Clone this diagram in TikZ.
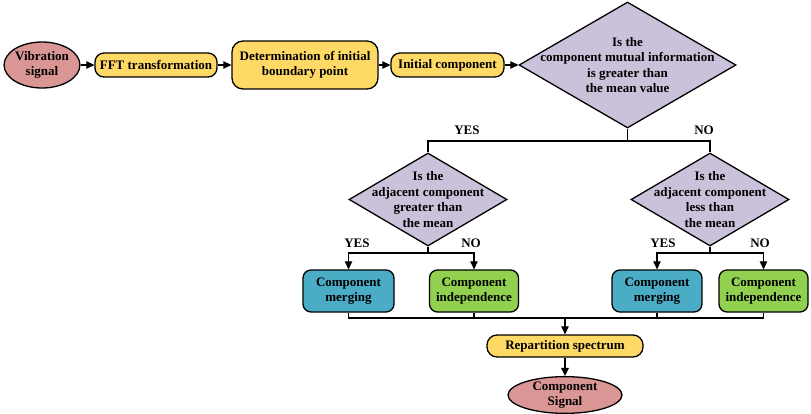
\documentclass[tikz,border=0pt]{standalone}
\usepackage{fontspec}
\setmainfont{Liberation Serif}
\usetikzlibrary{shapes.geometric,arrows.meta}
\definecolor{pinkc}{RGB}{217,150,148}
\definecolor{yelc}{RGB}{255,217,102}
\definecolor{lavc}{RGB}{204,193,218}
\definecolor{bluec}{RGB}{75,172,198}
\definecolor{grnc}{RGB}{146,208,80}
\begin{document}
\begin{tikzpicture}[x=1pt,y=-1pt,
  font=\bfseries\fontsize{13}{14.5}\selectfont,
  base/.style={draw=black, line width=1.3pt, align=center, inner sep=0pt},
  term/.style={base, ellipse, fill=pinkc},
  ybox/.style={base, rounded corners=9pt, fill=yelc, minimum height=24pt},
  dia/.style={base, diamond, fill=lavc},
  dtext/.style={align=center, inner sep=0pt, font=\bfseries\fontsize{13}{15.5}\selectfont},
  bbox/.style={base, rounded corners=8pt, fill=bluec, minimum height=42pt},
  gbox/.style={base, rounded corners=8pt, fill=grnc, minimum height=42pt},
  conn/.style={line width=1.2pt},
  arr/.style={conn, -{Triangle[length=8pt,width=7.5pt]}},
  lbl/.style={inner sep=0pt}]
\useasboundingbox (0,0) rectangle (811,414);

\node[term, minimum width=74pt, minimum height=46pt] (vib) at (42,65) {Vibration\\signal};
\node[ybox, minimum width=122pt] (fft) at (156,65) {FFT transformation};
\node[ybox, minimum width=146pt, minimum height=48pt, rounded corners=11pt] (det) at (305,65) {Determination of initial\\boundary point};
\node[ybox, minimum width=113pt] (init) at (447.5,65) {Initial component};
\node[dia, minimum width=217pt, minimum height=126pt] (d1) at (627.5,65) {};
\node[dtext] (d1t) at (627.5,65) {Is the\\component mutual information\\is greater than\\the mean value};

\node[dia, minimum width=158pt, minimum height=93pt] (d2) at (428,199.5) {};
\node[dtext] (d2t) at (428,199.5) {Is the\\adjacent component\\greater than\\the mean};
\node[dia, minimum width=158pt, minimum height=93pt] (d3) at (710,199.5) {};
\node[dtext] (d3t) at (710,199.5) {Is the\\adjacent component\\less than\\the mean};

\node[bbox, minimum width=91pt] (m1) at (348.5,291) {Component\\merging};
\node[gbox, minimum width=89pt] (i1) at (474,291) {Component\\independence};
\node[bbox, minimum width=90pt] (m2) at (657,291) {Component\\merging};
\node[gbox, minimum width=89pt] (i2) at (763.5,291) {Component\\independence};

\node[ybox, minimum width=156pt, minimum height=22pt, rounded corners=10pt] (rep) at (565,346) {Repartition spectrum};
\node[term, minimum width=114pt, minimum height=34pt] (out) at (565,395) {Component\\Signal};

\coordinate (j1) at (627.5,141);
\coordinate (j2) at (428,253);
\coordinate (j3) at (710,253);
\coordinate (j4) at (565,318);

\draw[arr] (vib) -- (fft);
\draw[arr] (fft) -- (det);
\draw[arr] (det) -- (init);
\draw[arr] (init) -- (d1);
\draw[conn] (d1.south) -- (j1);
\draw[conn] (d2.north) |- (j1) -| (d3.north);
\draw[conn] (d2.south) -- (j2);
\draw[arr] (j2) -| (m1.north);
\draw[arr] (j2) -| (i1.north);
\draw[conn] (d3.south) -- (j3);
\draw[arr] (j3) -| (m2.north);
\draw[arr] (j3) -| (i2.north);
\draw[conn] (m1.south) |- (j4) -| (i2.south);
\draw[conn] (i1.south) -- (i1.south |- j4);
\draw[conn] (m2.south) -- (m2.south |- j4);
\draw[arr] (j4) -- (rep);
\draw[arr] (rep) -- (out);

\node[lbl] (y1) at (467,130) {YES};
\node[lbl] (n1) at (704,130) {NO};
\node[lbl] (y2) at (357,243) {YES};
\node[lbl] (n2) at (471,243) {NO};
\node[lbl] (y3) at (663,243) {YES};
\node[lbl] (n3) at (760,243) {NO};
\end{tikzpicture}
\end{document}
